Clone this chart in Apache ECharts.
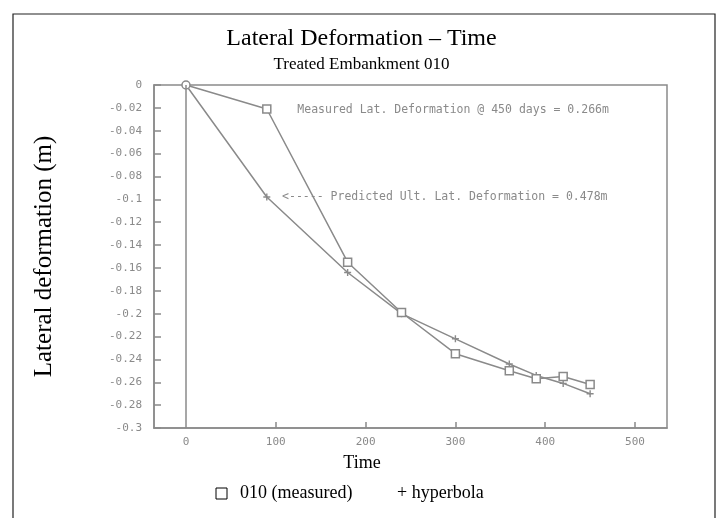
<!DOCTYPE html>
<html>
<head>
<meta charset="utf-8">
<script src="https://cdn.jsdelivr.net/npm/echarts@6/dist/echarts.min.js"></script>
<style>html,body{margin:0;padding:0;background:#fff;}#c{width:723px;height:518px;}</style>
</head>
<body>
<div id="c"></div>
<script>
// ---- data ----
var timeDays = [0, 90, 180, 240, 300, 360, 390, 420, 450];
var measured = [0, -0.021, -0.155, -0.199, -0.235, -0.250, -0.257, -0.255, -0.262];
var hyperbola = [0, -0.098, -0.164, -0.200, -0.222, -0.244, -0.254, -0.261, -0.270];
var xTickValues = [100, 200, 300, 400, 500];
var xLabelValues = [0, 100, 200, 300, 400, 500];
var annotations = [
  { text: 'Measured Lat. Deformation @ 450 days = 0.266m', t: 124, v: -0.022 },
  { text: '<----- Predicted Ult. Lat. Deformation = 0.478m', t: 107, v: -0.098 }
];
var titleText = 'Lateral Deformation \u2013 Time';
var subtitleText = 'Treated Embankment 010';
var xName = 'Time';
var yName = 'Lateral deformation (m)';
var legendNames = ['010 (measured)', '+ hyperbola'];

function pairs(xs, ys) { return xs.map(function (x, i) { return [x, ys[i]]; }); }

var gray = '#8a8a8a';
var serif = '"Liberation Serif", "Times New Roman", serif';
var mono = '"DejaVu Sans Mono", monospace';

var chart = echarts.init(document.getElementById('c'), null, { renderer: 'canvas' });
var plusPath = 'path://M4,0H6V4H10V6H6V10H4V6H0V4H4Z';

chart.setOption({
  animation: false,
  backgroundColor: '#fff',
  title: {
    text: titleText, subtext: subtitleText, left: 'center', top: 22, itemGap: 5,
    textStyle: { fontFamily: serif, fontSize: 24, fontWeight: 'normal', color: '#000' },
    subtextStyle: { fontFamily: serif, fontSize: 17, color: '#000' }
  },
  grid: { left: 154, top: 85, right: 56, bottom: 90, show: true, borderColor: gray, borderWidth: 1.5, backgroundColor: '#fff' },
  xAxis: {
    type: 'value', min: -35.6, max: 535.6,
    splitLine: { show: false },
    axisLine: { onZero: false, lineStyle: { color: gray, width: 1.5 } },
    axisTick: { inside: true, length: 6, customValues: xTickValues, lineStyle: { color: gray, width: 1.5 } },
    axisLabel: { customValues: xLabelValues, margin: 9, color: gray, fontFamily: mono, fontSize: 11 }
  },
  yAxis: {
    type: 'value', min: -0.3, max: 0, interval: 0.02,
    name: yName, nameLocation: 'middle', nameGap: 97,
    nameTextStyle: { fontFamily: serif, fontSize: 25, color: '#000' },
    splitLine: { show: false },
    axisLine: { onZero: false, lineStyle: { color: gray, width: 1.5 } },
    axisTick: { inside: true, length: 7, lineStyle: { color: gray, width: 1.5 } },
    axisLabel: {
      margin: 12, color: gray, fontFamily: mono, fontSize: 11,
      formatter: function (v) { return String(Number(v.toFixed(2))); }
    }
  },
  series: [
    {
      name: legendNames[0], type: 'line', data: pairs(timeDays, measured),
      symbol: function (v, p) { return p.dataIndex === 0 ? 'circle' : 'rect'; },
      symbolSize: 8,
      lineStyle: { color: gray, width: 1.5 },
      itemStyle: { color: '#fff', borderColor: gray, borderWidth: 1.5 },
      z: 3
    },
    {
      name: legendNames[1], type: 'line', data: pairs(timeDays, hyperbola),
      symbol: plusPath, symbolSize: 7,
      lineStyle: { color: gray, width: 1.5 },
      itemStyle: { color: gray },
      markLine: {
        silent: true, symbol: ['none', 'none'], label: { show: false },
        lineStyle: { color: gray, width: 1.5, type: 'solid' },
        data: [{ xAxis: 0 }]
      },
      z: 2
    }
  ]
});

var g = [
  { type: 'rect', shape: { x: 13, y: 14, width: 702, height: 530 }, style: { fill: 'none', stroke: '#222', lineWidth: 1.2 }, silent: true, z: 100 },
  { type: 'text', x: 362, y: 463, style: { text: xName, font: '18px ' + serif, fill: '#000', textAlign: 'center', textVerticalAlign: 'middle' }, z: 100 },
  { type: 'rect', shape: { x: 216, y: 488, width: 11, height: 11 }, style: { fill: '#fff', stroke: '#000', lineWidth: 1 }, z: 100 },
  { type: 'text', x: 240, y: 493, style: { text: legendNames[0], font: '18px ' + serif, fill: '#000', textAlign: 'left', textVerticalAlign: 'middle' }, z: 100 },
  { type: 'text', x: 397, y: 493, style: { text: legendNames[1], font: '18px ' + serif, fill: '#000', textAlign: 'left', textVerticalAlign: 'middle' }, z: 100 }
];
annotations.forEach(function (a) {
  var p = chart.convertToPixel({ gridIndex: 0 }, [a.t, a.v]);
  g.push({ type: 'text', x: p[0], y: p[1], style: { text: a.text, font: '11.5px ' + mono, fill: gray, textAlign: 'left', textVerticalAlign: 'middle' }, z: 50 });
});
chart.setOption({ graphic: g });
</script>
</body>
</html>
